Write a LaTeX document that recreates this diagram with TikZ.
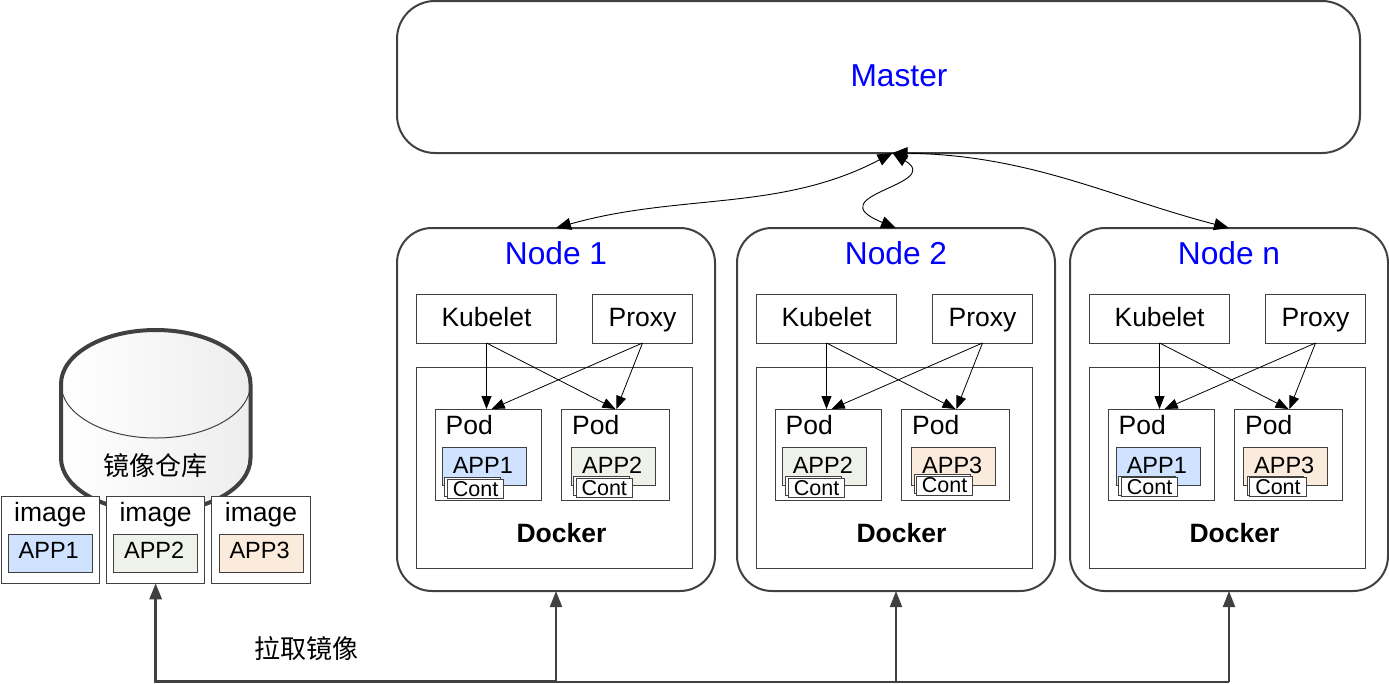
\documentclass[tikz,border=0pt]{standalone}
\usepackage{fontspec}
\setmainfont{Liberation Sans}
\newfontfamily\cjk{Noto Sans CJK SC}
\usetikzlibrary{arrows.meta, positioning}

\definecolor{linegray}{HTML}{404040}
\definecolor{appblue}{HTML}{CFE2FF}
\definecolor{appgreen}{HTML}{EEF2E8}
\definecolor{apporange}{HTML}{FBEBDD}

\tikzset{
    every node/.style={inner sep=0pt, outer sep=0pt, font=\fontsize{26.5}{30}\selectfont},
    bigtitle/.style={text=blue, font=\fontsize{31.7}{34}\selectfont},
    outerbox/.style={draw=linegray, line width=2pt, rounded corners=35pt, minimum width=318pt, minimum height=363pt},
    thinbox/.style={draw=linegray, line width=1pt, fill=white},
    agentbox/.style={thinbox, minimum height=49pt, text height=19pt, text depth=4pt},
    podbox/.style={thinbox, minimum height=91pt},
    appbox/.style={thinbox, minimum width=84pt, minimum height=38pt, text height=17pt, text depth=3pt, font=\fontsize{23.5}{26}\selectfont, execute at end node=\kern3pt},
    contbox/.style={thinbox, minimum width=56.5pt, minimum height=19pt, font=\fontsize{21.5}{24}\selectfont},
    imagebox/.style={thinbox, minimum width=98.5pt, minimum height=86.6pt},
    dockerlabel/.style={font=\fontsize{26.5}{30}\selectfont\bfseries},
    callarrow/.style={-{Triangle[length=13pt,width=10pt]}, line width=0.8pt},
    masterlink/.style={{Triangle[length=15pt,width=12pt]}-{Triangle[length=15pt,width=12pt]}, line width=0.9pt},
    pullarrow/.style={-{Triangle[length=16pt,width=12pt]}, draw=linegray, line width=2pt}
}

\begin{document}
\begin{tikzpicture}[x=1pt, y=-1pt]
        \useasboundingbox (0,0) rectangle (1389,683);

        \node[draw=linegray, line width=2pt, rounded corners=38pt, minimum width=963pt, minimum height=152pt] (master) at (878.5,77) {};
        \node[bigtitle] (mastertext) at (899,75.5) {Master};

        \draw[linegray, line width=4pt, left color=white, middle color=white, right color=black!7] (250.5,384) -- (250.5,458) arc[start angle=0, end angle=-180, x radius=94.75pt, y radius=54pt] -- (61,384) arc[start angle=180, end angle=0, x radius=94.75pt, y radius=54pt] -- cycle;
        \draw[linegray, line width=1pt] (61,384) arc[start angle=180, end angle=360, x radius=94.75pt, y radius=54pt];
        \node[font=\fontsize{26}{30}\selectfont\cjk] (repo) at (155.5,466) {镜像仓库};

        \node[imagebox] (image1) at (50.25,540) {};
        \node[imagebox, right=6.9pt of image1] (image2) {};
        \node[imagebox, right=6.9pt of image2] (image3) {};
        \node[below=6pt of image1.north] (imagetext1) {image};
        \node[below=6pt of image2.north] (imagetext2) {image};
        \node[below=6pt of image3.north] (imagetext3) {image};
        \node[appbox, fill=appblue, text depth=6pt, below=37.6pt of image1.north] (imageapp1) {APP1};
        \node[appbox, fill=appgreen, text depth=6pt, below=37.6pt of image2.north] (imageapp2) {APP2};
        \node[appbox, fill=apporange, text depth=6pt, below=37.6pt of image3.north] (imageapp3) {APP3};

        \node[outerbox] (node1) at (556,409.5) {};
        \node[bigtitle, below=13.5pt of node1.north] (nodetext1) {Node 1};
        \node[agentbox, minimum width=140pt, below right=66pt and 19.5pt of node1.north west] (kubelet1) {Kubelet};
        \node[agentbox, minimum width=100pt, right=36pt of kubelet1] (proxy1) {Proxy};
        \node[thinbox, minimum width=276pt, minimum height=201pt, below right=24pt and 0pt of kubelet1.south west] (dock1) {};
        \node[podbox, minimum width=106pt, below right=42pt and 19.2pt of dock1.north west] (pod11) {};
        \node[podbox, minimum width=107.5pt, right=20pt of pod11] (pod12) {};
        \node[below right=5.8pt and 10pt of pod11.north west] (podtext11) {Pod};
        \node[below right=5.8pt and 10.5pt of pod12.north west] (podtext12) {Pod};
        \node[appbox, fill=appblue, below right=38pt and 6.6pt of pod11.north west] (app11) {APP1};
        \node[appbox, fill=appgreen, below right=38pt and 10pt of pod12.north west] (app12) {APP2};
        \node[contbox, below right=30pt and 2pt of app11.north west] (contback11) {};
        \node[contbox, below right=32.7pt and 5pt of app11.north west] (cont11) {Cont};
        \node[contbox, below right=29pt and 1.5pt of app12.north west] (contback12) {};
        \node[contbox, below right=31.5pt and 4.3pt of app12.north west] (cont12) {Cont};
        \node[dockerlabel, above=25pt of dock1.south, xshift=7pt] (dockertext1) {Docker};

        \node[outerbox, right=22pt of node1] (node2) {};
        \node[bigtitle, below=13.5pt of node2.north] (nodetext2) {Node 2};
        \node[agentbox, minimum width=140pt, below right=66pt and 19.5pt of node2.north west] (kubelet2) {Kubelet};
        \node[agentbox, minimum width=100pt, right=36pt of kubelet2] (proxy2) {Proxy};
        \node[thinbox, minimum width=276pt, minimum height=201pt, below right=24pt and 0pt of kubelet2.south west] (dock2) {};
        \node[podbox, minimum width=106pt, below right=42pt and 19.2pt of dock2.north west] (pod21) {};
        \node[podbox, minimum width=107.5pt, right=20pt of pod21] (pod22) {};
        \node[below right=5.8pt and 10pt of pod21.north west] (podtext21) {Pod};
        \node[below right=5.8pt and 10.5pt of pod22.north west] (podtext22) {Pod};
        \node[appbox, fill=appgreen, below right=38pt and 6.6pt of pod21.north west] (app21) {APP2};
        \node[appbox, fill=apporange, below right=38pt and 10pt of pod22.north west] (app22) {APP3};
        \node[contbox, below right=29pt and 3pt of app21.north west] (contback21) {};
        \node[contbox, below right=31.4pt and 6pt of app21.north west] (cont21) {Cont};
        \node[contbox, below right=27.4pt and 2.4pt of app22.north west] (contback22) {};
        \node[contbox, below right=29pt and 4.7pt of app22.north west] (cont22) {Cont};
        \node[dockerlabel, above=25pt of dock2.south, xshift=7pt] (dockertext2) {Docker};

        \node[outerbox, right=15pt of node2] (noden) {};
        \node[bigtitle, below=13.5pt of noden.north] (nodetextn) {Node n};
        \node[agentbox, minimum width=140pt, below right=66pt and 19.5pt of noden.north west] (kubeletn) {Kubelet};
        \node[agentbox, minimum width=100pt, right=36pt of kubeletn] (proxyn) {Proxy};
        \node[thinbox, minimum width=276pt, minimum height=201pt, below right=24pt and 0pt of kubeletn.south west] (dockn) {};
        \node[podbox, minimum width=106pt, below right=42pt and 19.2pt of dockn.north west] (podn1) {};
        \node[podbox, minimum width=107.5pt, right=20pt of podn1] (podn2) {};
        \node[below right=5.8pt and 10pt of podn1.north west] (podtextn1) {Pod};
        \node[below right=5.8pt and 10.5pt of podn2.north west] (podtextn2) {Pod};
        \node[appbox, fill=appblue, below right=38pt and 7.6pt of podn1.north west] (appn1) {APP1};
        \node[appbox, fill=apporange, below right=38pt and 9pt of podn2.north west] (appn2) {APP3};
        \node[contbox, below right=29pt and 2.4pt of appn1.north west] (contbackn1) {};
        \node[contbox, below right=30.7pt and 5pt of appn1.north west] (contn1) {Cont};
        \node[contbox, below right=29pt and 3.4pt of appn2.north west] (contbackn2) {};
        \node[contbox, below right=30.7pt and 6pt of appn2.north west] (contn2) {Cont};
        \node[dockerlabel, above=25pt of dockn.south, xshift=7pt] (dockertextn) {Docker};

        \draw[callarrow] (kubelet1.south) -- (kubelet1.south |- pod11.north);
        \draw[callarrow] (kubelet1.south) -- (pod12.north);
        \draw[callarrow] (proxy1.south) -- ([xshift=3pt]pod11.north);
        \draw[callarrow] (proxy1.south) -- ([xshift=1pt]pod12.north);
        \draw[callarrow] (kubelet2.south) -- (kubelet2.south |- pod21.north);
        \draw[callarrow] (kubelet2.south) -- (pod22.north);
        \draw[callarrow] (proxy2.south) -- ([xshift=3pt]pod21.north);
        \draw[callarrow] (proxy2.south) -- ([xshift=1pt]pod22.north);
        \draw[callarrow] (kubeletn.south) -- (kubeletn.south |- podn1.north);
        \draw[callarrow] (kubeletn.south) -- (podn2.north);
        \draw[callarrow] (proxyn.south) -- ([xshift=3pt]podn1.north);
        \draw[callarrow] (proxyn.south) -- ([xshift=1pt]podn2.north);

        \draw[masterlink] ([xshift=14pt]master.south) .. controls (780,212) and (680,193) .. (node1.north);
        \draw[masterlink] ([xshift=14pt]master.south) .. controls (945,185) and (815,195) .. (node2.north);
        \draw[masterlink] ([xshift=14pt]master.south) .. controls (1030,155) and (1110,197) .. (noden.north);

        \coordinate (busend) at (1229,681.5);
        \node[font=\fontsize{26}{30}\selectfont\cjk] (pulltext) at (306.5,649) {拉取镜像};
        \draw[pullarrow, line width=3pt] (node1.south |- busend) -- (image2.south |- busend) -- (image2.south);
        \draw[linegray, line width=2pt] (node1.south |- busend) -- (busend);
        \draw[pullarrow] (node1.south |- busend) -- (node1.south);
        \draw[pullarrow] (node2.south |- busend) -- (node2.south);
        \draw[pullarrow] (busend) -- (noden.south);
    \end{tikzpicture}
\end{document}
